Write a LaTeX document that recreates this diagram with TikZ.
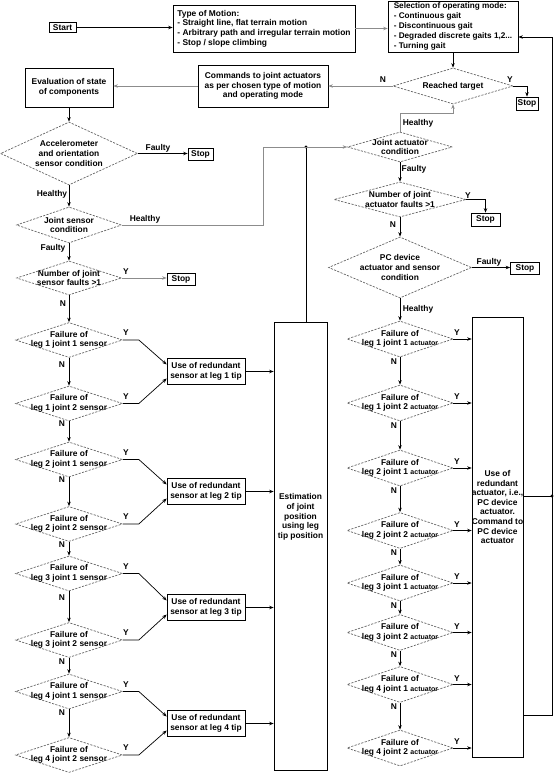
\documentclass[tikz,border=0pt]{standalone}
\usepackage{fontspec}
\setmainfont{Liberation Sans}
\usetikzlibrary{shapes.geometric,arrows.meta,calc}
\newcommand{\smallact}{{\fontsize{7}{9.5}\selectfont actuator}}
\tikzset{
  every node/.style={font=\fontsize{8.4}{9.6}\selectfont\bfseries, align=center, inner sep=0pt},
  box/.style={draw, rectangle, line width=0.7pt},
  dia/.style={diamond, draw=black!60, dash pattern=on 2.2pt off 1.3pt, line width=0.7pt},
  arr/.style={-{Stealth[length=4.5pt,width=3.5pt]}, line width=0.7pt},
  garr/.style={arr, draw=black!45},
  ln/.style={line width=0.7pt},
  gln/.style={ln, draw=black!45},
}
\begin{document}
\begin{tikzpicture}[x=1pt,y=-1pt]
\useasboundingbox (0,0) rectangle (554,775);

% ---- top row
\node[box, minimum width=27pt, minimum height=10pt] (start) at (62.5,27.5) {Start};
\node[box, minimum width=182pt, minimum height=47pt, align=left] (tom) at (264,28.5)
  {Type of Motion:\\- Straight line, flat terrain motion\\- Arbitrary path and irregular terrain motion\\- Stop / slope climbing};
\node[box, minimum width=130pt, minimum height=51pt, align=left, font=\fontsize{8.2}{10}\selectfont\bfseries] (sel) at (453,26.5)
  {Selection of operating mode:\\- Continuous gait\\- Discontinuous gait\\- Degraded discrete gaits 1,2...\\- Turning gait};
\node[dia, minimum width=120pt, minimum height=36pt] (rt) at (453,86) {};
\node (rtt) at (453,86) {Reached target};
\node[box, minimum width=22pt, minimum height=13pt] (stop1) at (527,103.5) {Stop};
\node[box, minimum width=130pt, minimum height=42pt] (cmd) at (263,86)
  {Commands to joint actuators\\as per chosen type of motion\\and operating mode};
\node[box, minimum width=88pt, minimum height=39pt] (eval) at (69,87.5) {Evaluation of state\\of components};

\draw[arr] (start.east) -- (start.east -| tom.west);
\draw[garr] (tom.east) -- (tom.east -| sel.west);
\draw[arr] (sel.south) -- (rt.north);
\draw[garr] (rt.west) -- (rt.west -| cmd.east);
\draw[arr] (rt.east) -| (stop1.north);
\draw[garr] (cmd.west) -- (cmd.west -| eval.east);
\node (lN0) at (383,80) {N};
\node (lY0) at (510,80) {Y};

% ---- left upper
\node[dia, minimum width=137pt, minimum height=63pt] (acc) at (69,153.5) {};
\node (acct) at (69,153.5) {Accelerometer\\and orientation\\sensor condition};
\node[box, minimum width=25pt, minimum height=12pt] (stop2) at (200.5,154) {Stop};
\node[dia, minimum width=105pt, minimum height=36pt] (js) at (69,225) {};
\node (jst) at (69,225) {Joint sensor\\condition};
\node[dia, minimum width=105pt, minimum height=34pt] (nsf) at (69,278) {};
\node (nsft) at (69,278) {Number of joint\\sensor faults >1};
\node[box, minimum width=28pt, minimum height=12pt] (stop3) at (181,279) {Stop};

\draw[arr] (eval.south) -- (acc.north);
\draw[arr] (acc.east) -- (acc.east -| stop2.west);
\draw[arr] (acc.south) -- (js.north);
\draw[arr] (js.south) -- (nsf.north);
\draw[garr] (nsf.east) -- (nsf.east -| stop3.west);
\node (lF1) at (158,148) {Faulty};
\node (lH1) at (52,194) {Healthy};
\node (lH2) at (145,219) {Healthy};
\node (lF2) at (53,248) {Faulty};
\node (lY1) at (126,272) {Y};
\node (lN1) at (63,304) {N};

% ---- estimation box
\node[box, minimum width=53pt, minimum height=448pt] (est) at (300.5,546) {};
\node (estt) at (300.5,517) {Estimation\\of joint\\position\\using leg\\tip position};

% ---- sensor chain
\foreach \n/\y/\lg/\jt in {s11/340/1/1, s12/403.5/1/2, s21/459.5/2/1, s22/524/2/2, s31/573.5/3/1, s32/640/3/2, s41/691.5/4/1, s42/755/4/2}{
  \node[dia, minimum width=107pt, minimum height=35pt] (\n) at (69,\y) {};
  \node (\n-t) at (69,\y) {Failure of\\leg \lg\ joint \jt\ sensor};
  \node (\n-y) at (126,\y-7) {Y};
}
\draw[arr] (nsf.south) -- (s11.north);
\foreach \a/\b/\ny in {s11/s12/365, s12/s21/424, s21/s22/480, s22/s31/545, s31/s32/598, s32/s41/662, s41/s42/713}{
  \draw[arr] (\a.south) -- (\b.north);
  \node (\a-n) at (62,\ny) {N};
}
\foreach \n/\y/\lg in {r1/371.5/1, r2/491.5/2, r3/607.5/3, r4/723.5/4}{
  \node[box, minimum width=78pt, minimum height=26pt] (\n) at (206,\y) {Use of redundant\\sensor at leg \lg\ tip};
  \draw[arr] (\n.east) -- (\n.east -| est.west);
}
\foreach \s/\r/\d in {s11/r1/-7, s12/r1/7, s21/r2/-7, s22/r2/7, s31/r3/-7, s32/r3/7, s41/r4/-7, s42/r4/7}{
  \draw[arr] (\s.east) -- ++(16,0) -- ($(\r.west)+(0,\d)$);
}

% ---- right column upper
\node[dia, minimum width=105pt, minimum height=30pt] (ja) at (400,147) {};
\node (jat) at (400,147) {Joint actuator\\condition};
\node[dia, minimum width=132pt, minimum height=35pt] (naf) at (400,199.5) {};
\node (naft) at (400,199.5) {Number of joint\\actuator faults >1};
\node[box, minimum width=29pt, minimum height=13pt] (stop4) at (485.5,219.5) {Stop};
\node[dia, minimum width=143pt, minimum height=61pt] (pc) at (400,267.5) {};
\node (pct) at (400,267.5) {PC device\\actuator and sensor\\condition};
\node[box, minimum width=29pt, minimum height=12pt] (stop5) at (525,268) {Stop};

\coordinate (jn1) at (306,147);
\coordinate (c1) at (263,225);
\draw[ln] (jn1 |- est.north) -- (jn1);
\fill (jn1) circle (1.6pt);
\draw[garr] (js.east) -- (c1) |- (ja.west);
\draw[garr] (ja.north) -- ++(0,-18) -| (rt.south);
\draw[arr] (ja.south) -- (naf.north);
\draw[arr] (naf.east) -| (stop4.north);
\draw[arr] (naf.south) -- (pc.north);
\draw[arr] (pc.east) -- (pc.east -| stop5.west);
\node (lH3) at (418,123) {Healthy};
\node (lF3) at (414,169) {Faulty};
\node (lY2) at (468,196) {Y};
\node (lN2) at (393,225) {N};
\node (lF4) at (489,262) {Faulty};
\node (lH4) at (418,309) {Healthy};

% ---- big actuator box
\node[box, minimum width=51pt, minimum height=440pt] (big) at (497.5,537) {};
\node (bigt) at (497.5,507) {Use of\\redundant\\actuator, i.e.,\\PC device\\actuator.\\Command to\\PC device\\actuator};

% ---- actuator chain
\foreach \n/\y/\lg/\jt in {a11/339/1/1, a12/403/1/2, a21/468/2/1, a22/530.5/2/2, a31/583/3/1, a32/632.5/3/2, a41/684.5/4/1, a42/748/4/2}{
  \node[dia, minimum width=106pt, minimum height=36pt] (\n) at (400,\y) {};
  \node (\n-t) at (400,\y) {Failure of\\leg \lg\ joint \jt\ \smallact};
  \node (\n-y) at (457,\y-6) {Y};
  \draw[arr] (\n.east) -- (\n.east -| big.west);
}
\draw[arr] (pc.south) -- (a11.north);
\foreach \a/\b in {a11/a12, a12/a21, a21/a22, a22/a31, a31/a32, a32/a41, a41/a42}{
  \draw[arr] (\a.south) -- (\b.north);
  \node (\a-n) at ($(\a.south)+(-6,4)$) {N};
}

% ---- feedback to operating mode
\coordinate (jn2) at (552,496);
\coordinate (fb1) at (552,715);
\coordinate (fb2) at (552,37);
\draw[ln] (jn2 -| big.east) -- (jn2);
\fill (jn2) circle (1.6pt);
\draw[arr] (fb1 -| big.east) -- (fb1) -- (fb2) -- (fb2 -| sel.east);
\end{tikzpicture}
\end{document}
